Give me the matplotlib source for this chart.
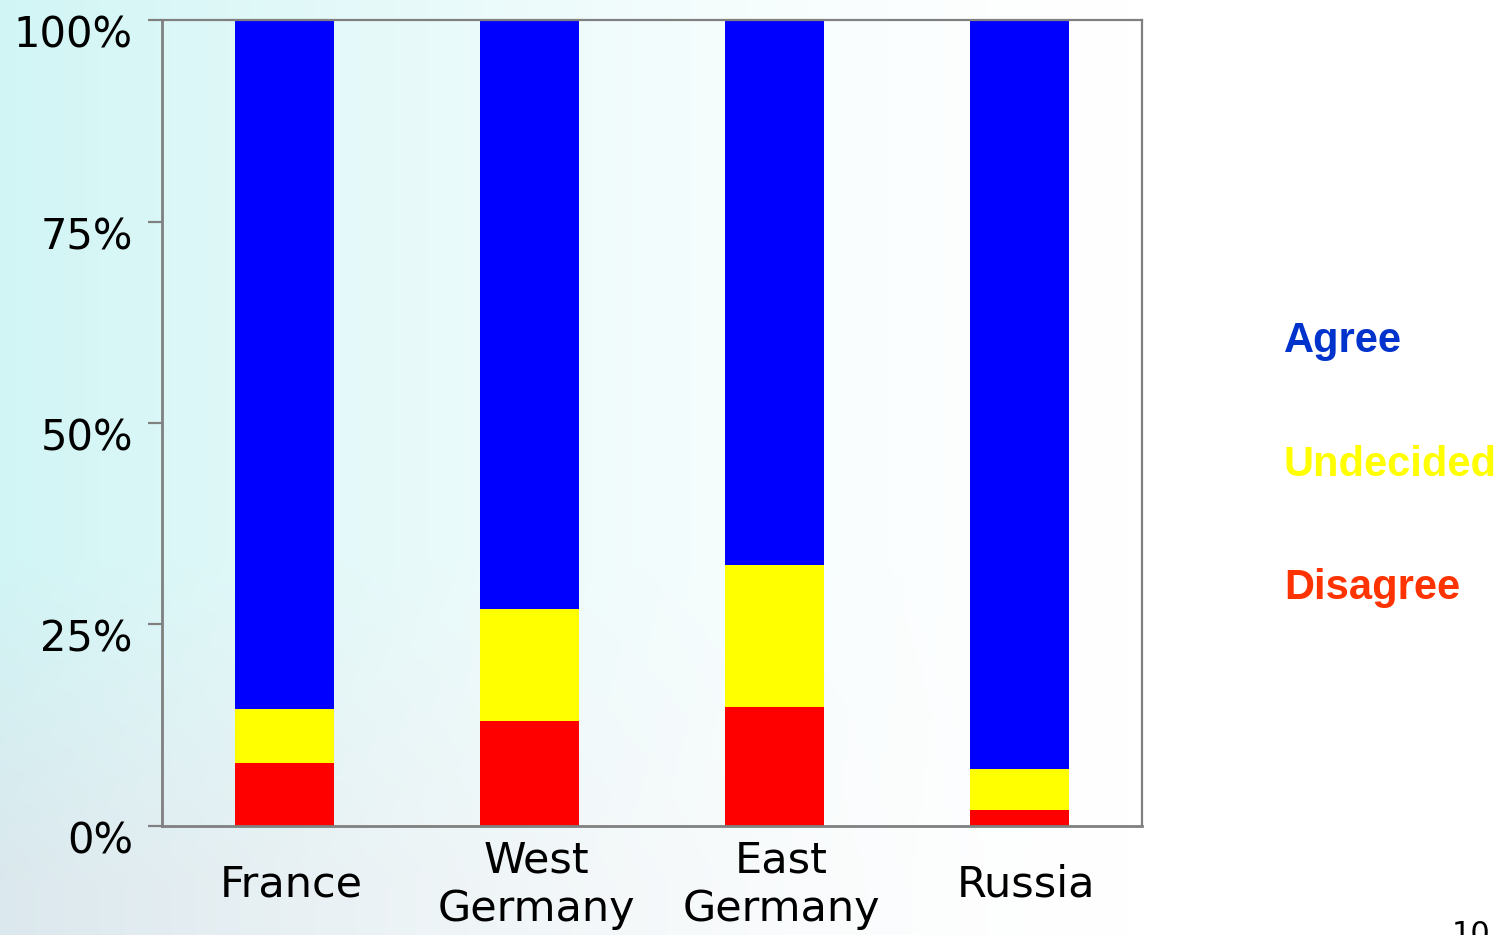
import numpy as np
import matplotlib
matplotlib.use("Agg")
import matplotlib.pyplot as plt
import matplotlib.transforms as mtransforms

countries = ["France", "West\nGermany", "East\nGermany", "Russia"]
disagree = [7.8, 13.0, 14.8, 2.0]
undecided = [6.7, 13.9, 17.6, 5.1]
agree = [85.5, 73.1, 67.6, 92.9]
yticks = [0, 25, 50, 75, 100]
ytick_labels = ["0%", "25%", "50%", "75%", "100%"]

fig = plt.figure(figsize=(15.05, 9.35), dpi=100)

# slide-style background: light cyan on the left fading to white
bg = fig.add_axes([0, 0, 1, 1], zorder=-10)
gx, gy = np.meshgrid(np.linspace(0, 1, 300), np.linspace(1, 0, 200))
fade = np.clip(1 - gx / 0.75, 0, 1) ** 1.5
top_col = np.array([0.82, 0.96, 0.96])
bot_col = np.array([0.86, 0.91, 0.93])
mix = np.clip((gy - 0.05) / 0.35, 0, 1)[..., None]
base = bot_col + (top_col - bot_col) * mix
img = 1 - fade[..., None] * (1 - base)
bg.imshow(img, aspect="auto", extent=[0, 1, 0, 1])
bg.axis("off")

ax = fig.add_axes([0.1076, 0.1166, 0.6512, 0.862])
ax.set_facecolor("none")

x = np.arange(len(countries))
w = 0.404
bottom2 = np.array(disagree) + np.array(undecided)
ax.bar(x, disagree, w, color="#FF0000")
ax.bar(x, undecided, w, bottom=disagree, color="#FFFF00")
ax.bar(x, agree, w, bottom=bottom2, color="#0000FF")

ax.set_xlim(-0.5, 3.5)
ax.set_ylim(0, 100)

for s in ax.spines.values():
    s.set_color("#808080")
    s.set_linewidth(1.6)
ax.spines["left"].set_linewidth(2)
ax.spines["bottom"].set_linewidth(2)

ax.set_yticks(yticks)
ax.set_yticklabels(ytick_labels, fontsize=30, family="DejaVu Sans")
ax.tick_params(axis="y", length=10, width=1.6, color="#808080", pad=11)
offset = mtransforms.ScaledTranslation(0, -0.11, fig.dpi_scale_trans)
for t in ax.get_yticklabels():
    t.set_transform(t.get_transform() + offset)

ax.set_xticks(x)
ax.set_xticklabels(countries, fontsize=31, family="DejaVu Sans", linespacing=1.2)
ax.tick_params(axis="x", length=0, pad=42)
xoff = mtransforms.ScaledTranslation(0.07, 0, fig.dpi_scale_trans)
for t in ax.get_xticklabels():
    t.set_verticalalignment("center")
    t.set_transform(t.get_transform() + xoff)

legend_items = [("Agree", "#0033CC", 341), ("Undecided", "#FFFF00", 465), ("Disagree", "#FF3300", 588)]
for label, col, ypx in legend_items:
    fig.text(1284 / 1505, 1 - ypx / 935, label, color=col, fontsize=30,
             fontweight="bold", family="Liberation Sans", va="center", ha="left")

fig.text(1452 / 1505, 1 - 920 / 935, "10", fontsize=22, family="DejaVu Sans", va="top", ha="left")

fig.savefig("out.png", dpi=100)
